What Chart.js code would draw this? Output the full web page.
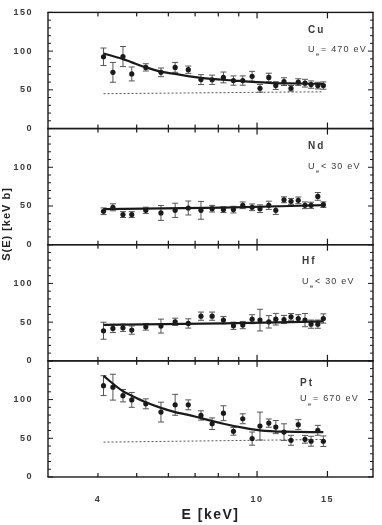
<!DOCTYPE html>
<html>
<head>
<meta charset="utf-8">
<script src="https://cdn.jsdelivr.net/npm/chart.js@4.4.1/dist/chart.umd.min.js"></script>
<style>
  html, body { margin: 0; padding: 0; background: #fff; }
  #c { display: block; }
</style>
</head>
<body>
<canvas id="c" width="382" height="525"></canvas>
<script>
// ---------- data ----------
const energy = [4.13, 4.36, 4.62, 4.86, 5.27, 5.75, 6.24, 6.73, 7.24, 7.72, 8.24, 8.73,
                9.21, 9.72, 10.17, 10.7, 11.14, 11.68, 12.16, 12.68, 13.18, 13.65, 14.19, 14.65];

const cuS   = [92.7, 72.6, 93, 70.5, 79, 72.6, 79, 76, 63.2, 63, 66, 62, 62, 67.5, 52, 66, 55.5, 60.6, 52, 60, 58.6, 56.8, 55.5, 55.5];
const cuErr = [11.3, 12.8, 13, 9, 4.7, 5.6, 6.4, 4.7, 6.4, 6, 7, 6, 6, 6.4, 5, 5.5, 5, 5, 3.6, 4.3, 5, 4.7, 4.3, 4.7];

const ndS   = [43.2, 48.3, 38.9, 38.9, 44.4, 41, 44.4, 47.4, 44.4, 46.5, 45.3, 45.3, 50.9, 48.3, 46.5, 50.9, 44.4, 58, 56, 57.3, 50.9, 50.9, 62.4, 51.7];
const ndErr = [4.3, 4.5, 3.8, 3.8, 4, 9.6, 9.2, 9, 11.5, 4.3, 3.8, 4.3, 4.3, 4.3, 5, 5.3, 5.3, 3.8, 3.8, 4.3, 4.3, 4, 5, 3.6];

const hfS   = [38.9, 41.9, 42.7, 39.7, 44, 44.9, 50.4, 48.3, 57.7, 57.7, 52.6, 45.3, 46.2, 53.8, 52.6, 50.4, 53.8, 53.4, 56.8, 54.7, 52.6, 47.4, 47.4, 54.7];
const hfErr = [11, 5.3, 4.7, 5.3, 4.3, 9, 4.7, 6, 5.3, 5.3, 4.7, 4.7, 4.7, 5.8, 14, 8, 7.5, 5.3, 4.3, 5, 8.5, 5.3, 5.3, 6];

const ptS   = [118, 116, 105, 99.6, 94.5, 83.8, 93.2, 93.2, 79.5, 68.8, 82.4, 59, 75.2, 49.6, 65.8, 69.6, 64.5, 58, 47.4, 67.6, 48.7, 46.2, 60.3, 46.2];
const ptErr = [12.8, 16.7, 8, 9.6, 6.4, 12.8, 13.5, 6.4, 6, 7.5, 9.6, 5, 6.4, 8.5, 18, 5.3, 8.5, 10.7, 6.4, 6.4, 5, 6.4, 6.4, 6.8];

// fitted curves
const cuFitE = [4.13, 4.62, 4.86, 5.27, 5.75, 6.24, 7.24, 8.73, 10.7, 12.68, 14.65];
const cuFitS = [97, 89.7, 85.5, 79, 73.5, 70.5, 65.4, 62, 59, 58.2, 57.7];
const ndFitE = [4.13, 8.24, 14.65];
const ndFitS = [46, 48, 51];
const hfFitE = [4.13, 8.24, 14.65];
const hfFitS = [46.5, 48.5, 51];
const ptFitE = [4.13, 4.62, 4.86, 5.27, 5.75, 6.24, 6.73, 7.24, 8.24, 9.21, 10.17, 11.68, 14.65];
const ptFitS = [130.5, 110.7, 105, 96.6, 89.3, 83.8, 80.3, 76, 68.8, 63.7, 60.3, 58.5, 58];

// bare-nucleus reference (dotted)
const bareE  = [4.13, 14.65];
const cuBare = [45, 47.5];
const ptBare = [45, 48.5];

// axes / labels
const xTickValues = [4, 5, 6, 7, 8, 9, 10, 15];
const xLabelled   = [4, 10, 15];
const elements    = ['Cu', 'Nd', 'Hf', 'Pt'];
const ueTexts     = ['= 470 eV', '< 30 eV', '< 30 eV', '= 670 eV'];
const panelIds    = ['yCu', 'yNd', 'yHf', 'yPt'];

// ---------- helpers ----------
const pts = (xs, ys) => xs.map((x, i) => ({ x: x, y: ys[i] }));
const INK = '#1a1a1a';
const TXT = '#3a3a3a';
const FONT = '"Liberation Sans", Arial, sans-serif';

function pointSet(ys, errs, axis) {
  return { type: 'line', data: pts(energy, ys), errors: errs, yAxisID: axis,
    showLine: false, pointRadius: 2.6, pointHoverRadius: 2.6, pointBackgroundColor: INK,
    pointBorderWidth: 0, borderColor: INK, order: 1 };
}
function fitSet(xs, ys, axis) {
  return { type: 'line', data: pts(xs, ys), yAxisID: axis, borderColor: INK, borderWidth: 2.2,
    pointRadius: 0, cubicInterpolationMode: 'monotone', fill: false, order: 2 };
}
function bareSet(xs, ys, axis) {
  return { type: 'line', data: pts(xs, ys), yAxisID: axis, borderColor: '#555', borderWidth: 1,
    borderDash: [2, 2], pointRadius: 0, fill: false, order: 3 };
}
function yScale(i, w) {
  return {
    type: 'linear', position: 'left', stack: 'panels', stackWeight: 1, weight: w,
    min: 0, max: 150,
    grid: { display: false }, border: { display: false },
    ticks: { stepSize: 50, padding: 7, color: TXT, font: { family: FONT, size: 9, weight: 'bold' },
      callback: (v) => (i > 0 && v === 150) ? '' : String(v) },
    afterFit(s) { s.width = 48; }
  };
}

function hLine(ctx, x1, x2, y, w) { ctx.fillRect(Math.min(x1, x2), y - w / 2, Math.abs(x2 - x1), w); }
function vLine(ctx, x, y1, y2, w) { ctx.fillRect(x - w / 2, Math.min(y1, y2), w, Math.abs(y2 - y1)); }

const decor = {
  id: 'decor',
  beforeUpdate(chart) { chart.ctx.letterSpacing = '1.5px'; },
  beforeDraw(chart) { chart.ctx.letterSpacing = '1.5px'; },
  beforeDatasetsDraw(chart) {
    const ctx = chart.ctx;
    ctx.save();
    ctx.fillStyle = '#555';
    chart.data.datasets.forEach((ds) => {
      if (!ds.errors) return;
      const ys = chart.scales[ds.yAxisID];
      const xs = chart.scales.x;
      ds.data.forEach((p, i) => {
        const px = xs.getPixelForValue(p.x);
        const top = ys.getPixelForValue(p.y + ds.errors[i]);
        const bot = ys.getPixelForValue(p.y - ds.errors[i]);
        vLine(ctx, px, top, bot, 1);
        hLine(ctx, px - 3, px + 3, top, 1);
        hLine(ctx, px - 3, px + 3, bot, 1);
      });
    });
    ctx.restore();
  },
  afterDraw(chart) {
    const ctx = chart.ctx;
    const ca = chart.chartArea;
    const xs = chart.scales.x;
    ctx.save();
    ctx.setLineDash([]);
    ctx.globalAlpha = 1;
    ctx.fillStyle = INK;
    panelIds.forEach((id, k) => {
      const s = chart.scales[id];
      const t = s.getPixelForValue(150), b = s.getPixelForValue(0);
      ctx.fillStyle = INK;
      hLine(ctx, ca.left - 0.7, ca.right + 0.7, t, 1.4);
      hLine(ctx, ca.left - 0.7, ca.right + 0.7, b, 1.4);
      vLine(ctx, ca.left, t, b, 1.4);
      vLine(ctx, ca.right, t, b, 1.4);
      for (let v = 0; v <= 150; v += 10) {
        const py = s.getPixelForValue(v);
        const len = v % 50 === 0 ? 5 : 3;
        hLine(ctx, ca.left, ca.left + len, py, 1);
        hLine(ctx, ca.right - len, ca.right, py, 1);
      }
      xTickValues.forEach(v => {
        const px = xs.getPixelForValue(v);
        const len = (v === 10 || v === 15) ? 6 : 4;
        vLine(ctx, px, t, t + len, 1.2);
        vLine(ctx, px, b - len, b, 1.2);
      });

      // element label and screening potential
      const lx = [308, 308, 302, 300][k];
      const dy = [18, 18, 17, 22][k];
      const dy2 = [37, 38, 37, 38][k];
      ctx.fillStyle = TXT;
      ctx.textBaseline = 'middle';
      ctx.textAlign = 'left';
      ctx.letterSpacing = '2px';
      ctx.font = 'bold 10px ' + FONT;
      ctx.fillText(elements[k], lx, t + dy);
      ctx.letterSpacing = '1.2px';
      ctx.font = '9px ' + FONT;
      ctx.fillText('U', lx, t + dy2);
      ctx.font = '6px ' + FONT;
      ctx.fillText('e', lx + 8, t + dy2 + 5);
      ctx.font = '9px ' + FONT;
      ctx.fillText(ueTexts[k], lx + 13, t + dy2);
    });
    // y-axis title
    ctx.save();
    ctx.translate(7, 224);
    ctx.rotate(-Math.PI / 2);
    ctx.textAlign = 'center';
    ctx.textBaseline = 'middle';
    ctx.letterSpacing = '1px';
    ctx.font = 'bold 11px ' + FONT;
    ctx.fillStyle = '#222';
    ctx.fillText('S(E) [keV b]', 0, 0);
    ctx.restore();
    ctx.restore();
  }
};

const datasets = [
  pointSet(cuS, cuErr, 'yCu'), fitSet(cuFitE, cuFitS, 'yCu'), bareSet(bareE, cuBare, 'yCu'),
  pointSet(ndS, ndErr, 'yNd'), fitSet(ndFitE, ndFitS, 'yNd'),
  pointSet(hfS, hfErr, 'yHf'), fitSet(hfFitE, hfFitS, 'yHf'),
  pointSet(ptS, ptErr, 'yPt'), fitSet(ptFitE, ptFitS, 'yPt'), bareSet(bareE, ptBare, 'yPt')
];

new Chart(document.getElementById('c'), {
  type: 'line',
  data: { datasets: datasets },
  plugins: [decor],
  options: {
    responsive: false,
    animation: false,
    devicePixelRatio: 1,
    layout: { padding: { top: 8, right: 9, left: 0, bottom: 0 } },
    plugins: { legend: { display: false }, tooltip: { enabled: false } },
    scales: {
      x: {
        type: 'logarithmic', position: 'bottom', min: 3, max: 19.5,
        grid: { display: false }, border: { display: false },
        afterBuildTicks(s) { s.ticks = xTickValues.map(v => ({ value: v })); },
        ticks: { autoSkip: false, maxRotation: 0, padding: 9, color: TXT,
          font: { family: FONT, size: 9, weight: 'bold' },
          callback: (v) => xLabelled.includes(v) ? String(v) : '' },
        title: { display: true, text: 'E [keV]', color: '#222', padding: { top: 0, bottom: 1 },
          font: { family: FONT, size: 14, weight: 'bold' } },
        afterFit(s) { s.height = 48; }
      },
      yPt: yScale(3, 1),
      yHf: yScale(2, 2),
      yNd: yScale(1, 3),
      yCu: yScale(0, 4)
    }
  }
});
</script>
</body>
</html>
